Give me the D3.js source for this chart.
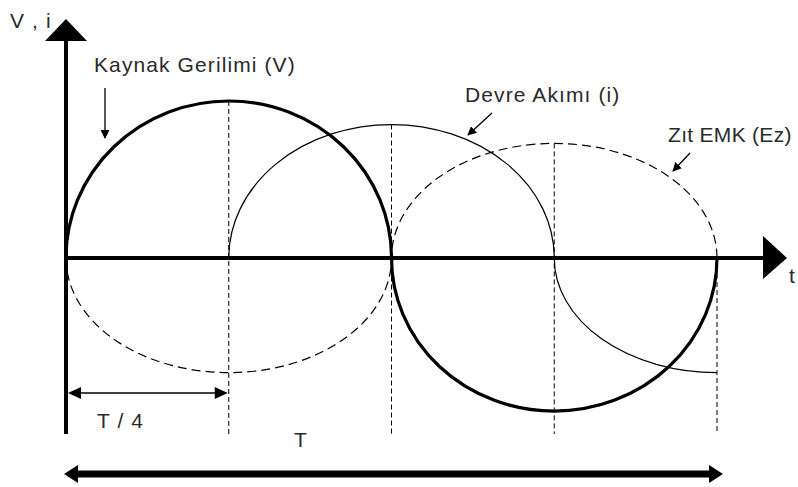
<!DOCTYPE html>
<html>
<head>
<meta charset="utf-8">
<script src="https://cdn.jsdelivr.net/npm/d3@7"></script>
<style>
  body { margin: 0; background: #fff; }
  text { font-family: "Liberation Sans", Arial, sans-serif; fill: #2a2a2a; }
</style>
</head>
<body>
<div id="root"></div>
<script>
// time in periods (T = 1), values relative to source voltage peak
var quarterTicks = [0, 0.25, 0.5, 0.75, 1];

// each wave is a list of turning points joined by quarter-ellipse arcs
var voltageT = [0, 0.25, 0.5, 0.75, 1];
var voltageV = [0, 1, 0, -0.975, 0];

var currentT = [0.25, 0.5, 0.75, 1];
var currentV = [0, 0.85, 0, -0.73];

var emfT = [0, 0.25, 0.5, 0.75, 1];
var emfV = [0, -0.73, 0, 0.73, 0];

// top end of each dashed guide line (value of the highest curve there)
var guideTop = [1, 0.85, 0.73, 0];

var labels = [
  { text: 'V , i', x: 10, y: 28, sp: 1.1 },
  { text: 'Kaynak Gerilimi (V)', x: 94, y: 72, sp: 1.1 },
  { text: 'Devre Akımı (i)', x: 465, y: 102, sp: 1.1 },
  { text: 'Zıt EMK (Ez)', x: 668, y: 142, sp: 0.3 },
  { text: 'T / 4', x: 97, y: 428, sp: 1.1 },
  { text: 'T', x: 294, y: 447, sp: 0 },
  { text: 't', x: 789, y: 283, sp: 0 }
];

var width = 798, height = 487;

var svg = d3.select('#root')
  .append('svg')
    .attr('width', width)
    .attr('height', height);

var x = d3.scaleLinear().domain([0, 1]).range([66, 717]);
var y = d3.scaleLinear().domain([-1, 1]).range([415, 101]);

var wavePath = (ts, vs) => {
  var d = 'M' + x(ts[0]) + ',' + y(vs[0]);
  for (var k = 1; k < ts.length; k++) {
    var x0 = x(ts[k - 1]), y0 = y(vs[k - 1]);
    var x1 = x(ts[k]), y1 = y(vs[k]);
    var rx = Math.abs(x1 - x0), ry = Math.abs(y1 - y0);
    var sweep = Math.max(vs[k - 1], vs[k]) > 0 ? 1 : 0;
    d += 'A' + rx + ',' + ry + ' 0 0 ' + sweep + ' ' + x1 + ',' + y1;
  }
  return d;
};

// dashed guides at each quarter period
svg.selectAll('line.guide')
  .data(quarterTicks.slice(1))
  .enter()
  .append('line')
    .attr('class', 'guide')
    .attr('x1', d => x(d))
    .attr('x2', d => x(d))
    .attr('y1', (d, i) => y(guideTop[i]))
    .attr('y2', 434)
    .attr('stroke', '#000')
    .attr('stroke-width', 1)
    .attr('stroke-dasharray', '5,3');

// waves
svg.append('path')
  .attr('d', wavePath(emfT, emfV))
  .attr('fill', 'none')
  .attr('stroke', '#000')
  .attr('stroke-width', 1.2)
  .attr('stroke-dasharray', '9,5');

svg.append('path')
  .attr('d', wavePath(currentT, currentV))
  .attr('fill', 'none')
  .attr('stroke', '#000')
  .attr('stroke-width', 1.2);

svg.append('path')
  .attr('d', wavePath(voltageT, voltageV))
  .attr('fill', 'none')
  .attr('stroke', '#000')
  .attr('stroke-width', 3.2);

// axes
svg.append('line')
  .attr('x1', x(0)).attr('x2', x(0))
  .attr('y1', 38).attr('y2', 434)
  .attr('stroke', '#000').attr('stroke-width', 4);
svg.append('path')
  .attr('d', 'M45,41 L66,19 L87,41 Z')
  .attr('fill', '#000');

svg.append('line')
  .attr('x1', x(0)).attr('x2', 765)
  .attr('y1', y(0)).attr('y2', y(0))
  .attr('stroke', '#000').attr('stroke-width', 4);
svg.append('path')
  .attr('d', 'M763,236 L787,258 L763,279 Z')
  .attr('fill', '#000');

// T/4 dimension
var quarterY = 393;
svg.append('line')
  .attr('x1', x(0) + 8).attr('x2', x(0.25) - 8)
  .attr('y1', quarterY).attr('y2', quarterY)
  .attr('stroke', '#000').attr('stroke-width', 1.5);
svg.append('path')
  .attr('d', 'M' + (x(0) + 2) + ',' + quarterY + ' l13,-6 l0,12 Z')
  .attr('fill', '#000');
svg.append('path')
  .attr('d', 'M' + (x(0.25) - 1) + ',' + quarterY + ' l-13,-6 l0,12 Z')
  .attr('fill', '#000');

// T dimension
var periodY = 474;
svg.append('line')
  .attr('x1', x(0) + 6).attr('x2', x(1) - 2)
  .attr('y1', periodY).attr('y2', periodY)
  .attr('stroke', '#000').attr('stroke-width', 7);
svg.append('path')
  .attr('d', 'M' + (x(0) - 2) + ',' + periodY + ' l14,-9 l0,18 Z')
  .attr('fill', '#000');
svg.append('path')
  .attr('d', 'M' + (x(1) + 6) + ',' + periodY + ' l-14,-9 l0,18 Z')
  .attr('fill', '#000');

// label pointers
var pointers = [
  [105, 88, 105, 138],
  [492, 113, 468, 135],
  [690, 153, 673, 171]
];
var defs = svg.append('defs');
defs.append('marker')
  .attr('id', 'head')
  .attr('viewBox', '0 0 10 10')
  .attr('refX', 9).attr('refY', 5)
  .attr('markerWidth', 9).attr('markerHeight', 9)
  .attr('markerUnits', 'userSpaceOnUse')
  .attr('orient', 'auto')
  .append('path')
    .attr('d', 'M0,0 L10,5 L0,10 Z')
    .attr('fill', '#000');

svg.selectAll('line.pointer')
  .data(pointers)
  .enter()
  .append('line')
    .attr('class', 'pointer')
    .attr('x1', d => d[0]).attr('y1', d => d[1])
    .attr('x2', d => d[2]).attr('y2', d => d[3])
    .attr('stroke', '#000')
    .attr('stroke-width', 1.3)
    .attr('marker-end', 'url(#head)');

svg.selectAll('text.label')
  .data(labels)
  .enter()
  .append('text')
    .attr('class', 'label')
    .attr('x', d => d.x)
    .attr('y', d => d.y)
    .attr('font-size', 21)
    .attr('letter-spacing', d => d.sp)
    .text(d => d.text);
</script>
</body>
</html>
